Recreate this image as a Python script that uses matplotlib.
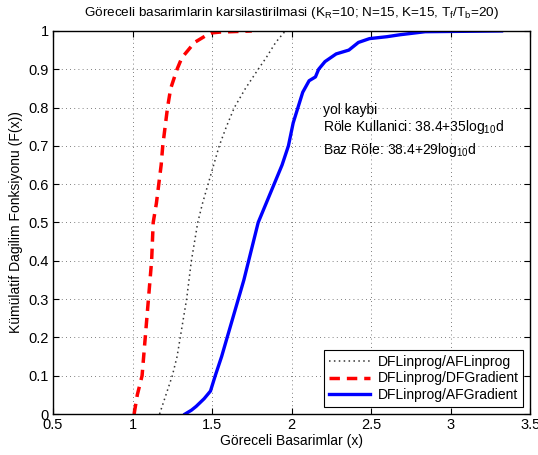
import matplotlib
matplotlib.use("Agg")
import matplotlib.pyplot as plt

plt.rcParams['font.family'] = ['Liberation Sans', 'DejaVu Sans']
plt.rcParams['mathtext.fontset'] = 'custom'
plt.rcParams['mathtext.rm'] = 'Liberation Sans'
plt.rcParams['mathtext.it'] = 'Liberation Sans'
plt.rcParams['mathtext.default'] = 'regular'

# CDF points (x, F(x))
lin_x = [1.17, 1.21, 1.25, 1.28, 1.30, 1.32, 1.34, 1.355, 1.37, 1.39, 1.41, 1.44, 1.475,
         1.51, 1.545, 1.59, 1.64, 1.71, 1.79, 1.84, 1.87, 1.90, 1.92, 1.95, 1.97]
lin_y = [0.0, 0.05, 0.10, 0.15, 0.20, 0.25, 0.30, 0.35, 0.40, 0.45, 0.50, 0.55, 0.60,
         0.65, 0.70, 0.75, 0.80, 0.85, 0.90, 0.93, 0.95, 0.97, 0.98, 0.995, 1.0]

grad_x = [1.01, 1.03, 1.06, 1.07, 1.08, 1.09, 1.10, 1.11, 1.12, 1.125, 1.13, 1.15, 1.165,
          1.18, 1.19, 1.205, 1.22, 1.24, 1.28, 1.31, 1.35, 1.39, 1.43, 1.47, 1.50, 1.55, 1.75]
grad_y = [0.0, 0.05, 0.10, 0.15, 0.20, 0.25, 0.30, 0.35, 0.40, 0.45, 0.50, 0.55, 0.60,
          0.65, 0.70, 0.75, 0.80, 0.85, 0.90, 0.93, 0.95, 0.97, 0.98, 0.99, 0.995, 0.997, 1.0]

afg_x = [1.33, 1.37, 1.40, 1.45, 1.49, 1.52, 1.56, 1.595, 1.63, 1.665, 1.70, 1.73, 1.76,
         1.79, 1.84, 1.89, 1.94, 1.98, 2.01, 2.04, 2.07, 2.11, 2.15, 2.17, 2.21, 2.28, 2.36,
         2.42, 2.49, 2.60, 2.68, 2.84, 3.32]
afg_y = [0.0, 0.01, 0.02, 0.04, 0.06, 0.10, 0.15, 0.20, 0.25, 0.30, 0.35, 0.40, 0.45,
         0.50, 0.55, 0.60, 0.65, 0.70, 0.76, 0.80, 0.84, 0.87, 0.88, 0.90, 0.92, 0.94, 0.95,
         0.97, 0.98, 0.985, 0.99, 0.998, 1.0]

labels = ['DFLinprog/AFLinprog', 'DFLinprog/DFGradient', 'DFLinprog/AFGradient']
xticks = [0.5, 1, 1.5, 2, 2.5, 3, 3.5]
xticklabels = ['0.5', '1', '1.5', '2', '2.5', '3', '3.5']
yticks = [0, 0.1, 0.2, 0.3, 0.4, 0.5, 0.6, 0.7, 0.8, 0.9, 1]
yticklabels = ['0', '0.1', '0.2', '0.3', '0.4', '0.5', '0.6', '0.7', '0.8', '0.9', '1']

fig = plt.figure(figsize=(5.38, 4.55), dpi=100)
ax = fig.add_axes([0.0985, 0.090, 0.887, 0.842])

ax.plot(lin_x, lin_y, color='#333333', linestyle=':', linewidth=1.1, dashes=(1, 2.2),
        label=labels[0])
ax.plot(grad_x, grad_y, color='red', linestyle='--', linewidth=2.5, dashes=(3, 2),
        label=labels[1])
ax.plot(afg_x, afg_y, color='blue', linestyle='-', linewidth=2.4, label=labels[2])

ax.set_xlim(0.5, 3.5)
ax.set_ylim(0, 1)
ax.set_xticks(xticks)
ax.set_xticklabels(xticklabels)
ax.set_yticks(yticks)
ax.set_yticklabels(yticklabels)
ax.tick_params(direction='in', top=True, right=True, labelsize=10.5, length=4, width=0.8,
               pad=3)
ax.grid(True, linestyle=(0, (1, 4)), color='#555555', linewidth=0.6)
for s in ax.spines.values():
    s.set_linewidth(1.0)

ax.set_xlabel('Göreceli Basarimlar (x)', fontsize=10, labelpad=1)
ax.set_ylabel('Kümülatif Dagilim Fonksiyonu (F(x))', fontsize=10, labelpad=4)
ax.set_title('Göreceli basarimlarin karsilastirilmasi (K$_R$=10; N=15, K=15, T$_f$/T$_b$=20)',
             fontsize=9.7, pad=11)

ax.text(2.2, 0.793, 'yol kaybi', fontsize=10, va='center')
ax.text(2.2, 0.748, 'Röle Kullanici: 38.4+35log$_{10}$d', fontsize=10, va='center')
ax.text(2.2, 0.69, 'Baz Röle: 38.4+29log$_{10}$d', fontsize=10, va='center')

leg = ax.legend(loc='lower right', fontsize=10, fancybox=False, framealpha=1,
                edgecolor='black', borderaxespad=0.5, handlelength=3.0,
                labelspacing=0.2, borderpad=0.35, handletextpad=0.5)
leg.get_frame().set_linewidth(0.8)

fig.savefig('out.png', dpi=100)
